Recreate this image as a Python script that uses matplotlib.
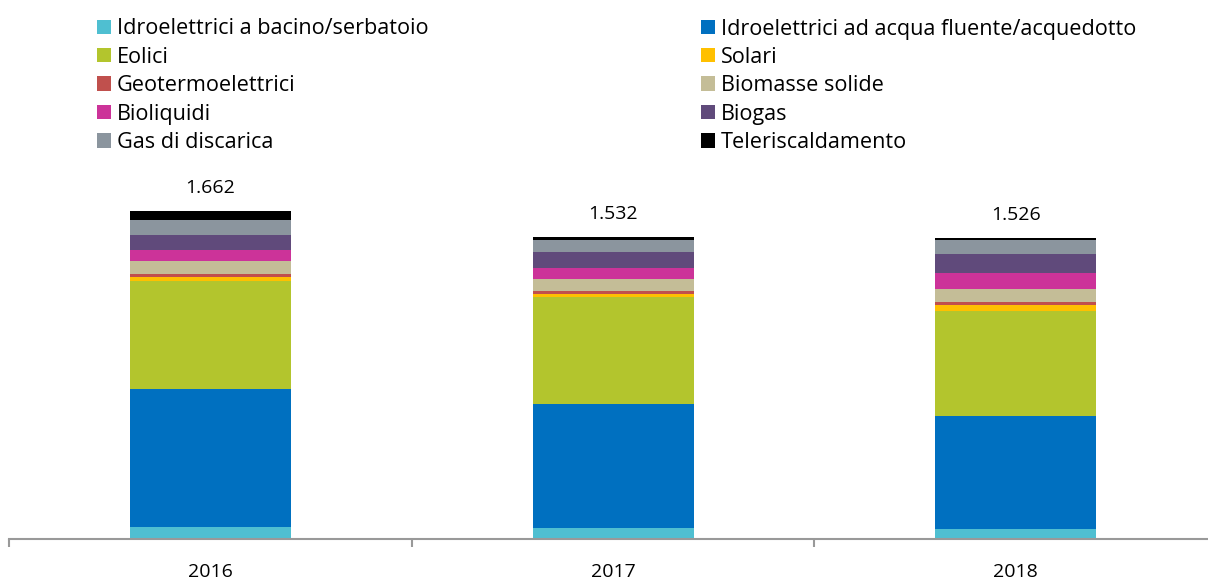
import matplotlib
matplotlib.use("Agg")
import matplotlib.pyplot as plt
from matplotlib.patches import Patch
import numpy as np

plt.rcParams['font.family'] = ['Open Sans', 'DejaVu Sans']

years = ["2016", "2017", "2018"]
series = [
    "Idroelettrici a bacino/serbatoio",
    "Idroelettrici ad acqua fluente/acquedotto",
    "Eolici",
    "Solari",
    "Geotermoelettrici",
    "Biomasse solide",
    "Bioliquidi",
    "Biogas",
    "Gas di discarica",
    "Teleriscaldamento",
]
idro_bacino = [61, 56, 49]
idro_fluente = [697, 630, 573]
eolici = [550, 540, 534]
solari = [19, 17, 27]
geotermo = [15, 14, 17]
biomasse = [64, 59, 66]
bioliquidi = [57, 57, 81]
biogas = [78, 80, 96]
discarica = [74, 59, 69]
teleriscaldamento = [46, 20, 14]
totals = [1662, 1532, 1526]
total_labels = ["1.662", "1.532", "1.526"]

values = [idro_bacino, idro_fluente, eolici, solari, geotermo, biomasse,
          bioliquidi, biogas, discarica, teleriscaldamento]
colors = ["#4FBFD1", "#0070C0", "#B3C52D", "#FFC000", "#C0504D",
          "#C4BD97", "#CC3399", "#604A7B", "#8B959E", "#000000"]

W, H = 1208, 582
fig = plt.figure(figsize=(W / 100, H / 100), dpi=100)
ax = fig.add_axes([9.3 / W, 43 / H, (1217 - 9.3) / W, 355.4 / H])

x = np.arange(len(years))
bottom = np.zeros(len(years))
for vals, col in zip(values, colors):
    ax.bar(x, vals, width=0.4, bottom=bottom, color=col, linewidth=0)
    bottom += np.array(vals)

for xi, t, lab in zip(x, totals, total_labels):
    ax.text(xi, t + 68, lab, ha="center", va="bottom", fontsize=14, color="#000000")

ax.set_xlim(-0.5, 2.5)
ax.set_ylim(0, 1800)
ax.set_yticks([])
for s in ["top", "right", "left"]:
    ax.spines[s].set_visible(False)
ax.spines["bottom"].set_color("#999999")
ax.spines["bottom"].set_linewidth(1.5)
ax.set_xticks(x)
ax.set_xticklabels(years, fontsize=14)
ax.tick_params(axis="x", which="major", length=0, pad=17)
ax.set_xticks([-0.5, 0.5, 1.5, 2.5], minor=True)
ax.tick_params(axis="x", which="minor", length=6, width=1.5, color="#999999")

handles = [Patch(facecolor=c, edgecolor="none") for c in colors]
left_idx = [0, 2, 4, 6, 8]
right_idx = [1, 3, 5, 7, 9]
common = dict(frameon=False, fontsize=15.6, handlelength=0.65, handleheight=0.65,
              handletextpad=0.28, labelspacing=0.34, borderpad=0, borderaxespad=0,
              loc="upper left")
leg1 = fig.legend([handles[i] for i in left_idx], [series[i] for i in left_idx],
                  bbox_to_anchor=(96.5 / W, 1 - 18.5 / H), **common)
leg2 = fig.legend([handles[i] for i in right_idx], [series[i] for i in right_idx],
                  bbox_to_anchor=(701 / W, 1 - 18.5 / H), **common)

fig.savefig("out.png", dpi=100)
